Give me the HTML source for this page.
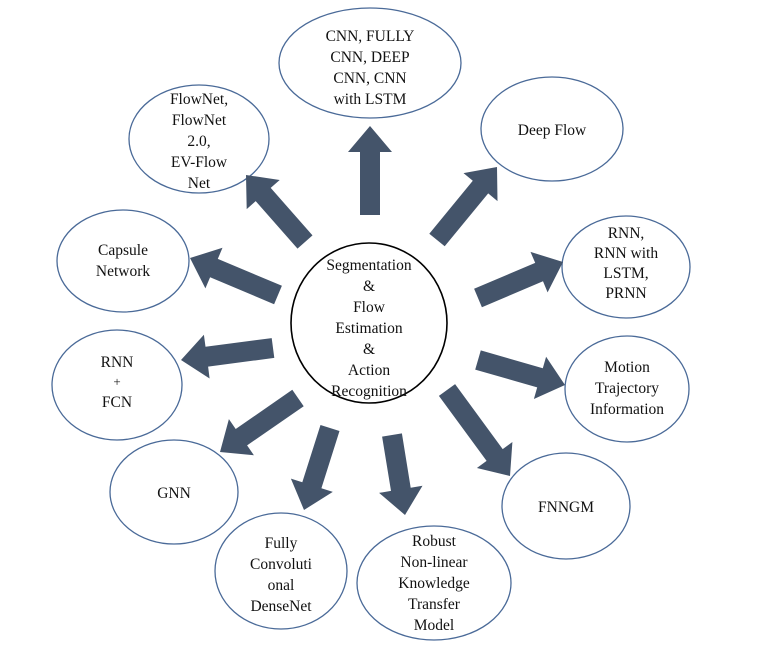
<!DOCTYPE html>
<html><head><meta charset="utf-8"><style>
html,body{margin:0;padding:0;background:#fff;width:774px;height:658px;overflow:hidden}
svg{display:block}
text{font-family:"Liberation Serif",serif;font-size:15.5px;fill:#111;text-anchor:middle}
</style></head><body>
<svg id="s" width="774" height="658" xmlns="http://www.w3.org/2000/svg">
<g fill="#fff" stroke="#4a6a98" stroke-width="1.3">
<ellipse cx="370" cy="63" rx="91" ry="55"/>
<ellipse cx="199" cy="139" rx="70" ry="54"/>
<ellipse cx="552" cy="129" rx="71" ry="52"/>
<ellipse cx="123" cy="261" rx="66" ry="51"/>
<ellipse cx="626" cy="267" rx="64" ry="51"/>
<ellipse cx="117" cy="385" rx="65" ry="55"/>
<ellipse cx="627" cy="389" rx="62" ry="53"/>
<ellipse cx="174" cy="492" rx="64" ry="52"/>
<ellipse cx="566" cy="506" rx="64" ry="53"/>
<ellipse cx="281" cy="571" rx="66" ry="58"/>
<ellipse cx="434" cy="583" rx="77" ry="57"/>
</g>
<ellipse cx="369" cy="323" rx="78" ry="80" fill="#fff" stroke="#000" stroke-width="1.6"/>
<g id="arrows" fill="#44546a"></g>
<text x="370" y="41">CNN, FULLY</text><text x="370" y="62">CNN, DEEP</text><text x="370" y="83">CNN, CNN</text><text x="370" y="104">with LSTM</text>
<text x="199" y="104">FlowNet,</text><text x="199" y="125">FlowNet</text><text x="199" y="146">2.0,</text><text x="199" y="167">EV-Flow</text><text x="199" y="188">Net</text>
<text x="552" y="135">Deep Flow</text>
<text x="123" y="255">Capsule</text><text x="123" y="276">Network</text>
<text x="626" y="238">RNN,</text><text x="626" y="258">RNN with</text><text x="626" y="278">LSTM,</text><text x="626" y="298">PRNN</text>
<text x="369" y="270">Segmentation</text><text x="369" y="291">&amp;</text><text x="369" y="312">Flow</text><text x="369" y="333">Estimation</text><text x="369" y="354">&amp;</text><text x="369" y="375">Action</text><text x="369" y="396">Recognition</text>
<text x="117" y="367">RNN</text><text x="117" y="386" style="font-size:13px">+</text><text x="117" y="407">FCN</text>
<text x="627" y="372">Motion</text><text x="627" y="393">Trajectory</text><text x="627" y="414">Information</text>
<text x="174" y="498">GNN</text>
<text x="566" y="512">FNNGM</text>
<text x="281" y="548">Fully</text><text x="281" y="569">Convoluti</text><text x="281" y="590">onal</text><text x="281" y="611">DenseNet</text>
<text x="434" y="546">Robust</text><text x="434" y="567">Non-linear</text><text x="434" y="588">Knowledge</text><text x="434" y="609">Transfer</text><text x="434" y="630">Model</text>
</svg>
<script>
(function(){
var A=[[370,215,370,126],[305,242,246,175],[437,240,497,167],[278,295,190,258],[478,298,563,262],[273,348,181,360],[478,360,565,385],[298,398,220,452],[447,390,510,476],[330,428,304,510],[392,435,405,515]];
var g=document.getElementById('arrows'),ns='http://www.w3.org/2000/svg';
var sw=10,hw=22,hl=26;
A.forEach(function(a){
var x0=a[0],y0=a[1],x1=a[2],y1=a[3],dx=x1-x0,dy=y1-y0,L=Math.hypot(dx,dy),ux=dx/L,uy=dy/L,px=-uy,py=ux;
var bx=x1-ux*hl,by=y1-uy*hl;
var pts=[[x0+px*sw,y0+py*sw],[bx+px*sw,by+py*sw],[bx+px*hw,by+py*hw],[x1,y1],[bx-px*hw,by-py*hw],[bx-px*sw,by-py*sw],[x0-px*sw,y0-py*sw]];
var p=document.createElementNS(ns,'polygon');
p.setAttribute('points',pts.map(function(q){return q[0].toFixed(1)+','+q[1].toFixed(1)}).join(' '));
g.appendChild(p);
});
})();
</script>
</body></html>
